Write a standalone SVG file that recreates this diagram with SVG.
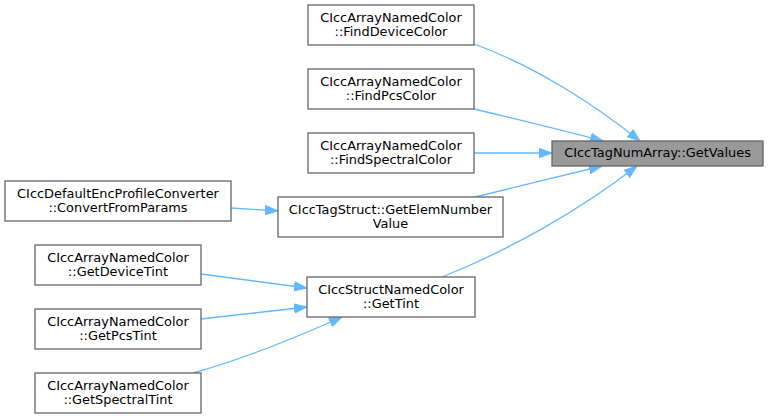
<svg xmlns="http://www.w3.org/2000/svg" width="768" height="419" viewBox="0 0 768 419">
<style>
.n rect{fill:#ffffff;stroke:#666666;stroke-width:1.3}
.n.h rect{fill:#999999}
.n text{font-family:"DejaVu Sans",sans-serif;font-size:12.9px;fill:#000000;text-anchor:middle}
.e path{fill:none;stroke:#63b8ff;stroke-width:1.3}
</style>
<defs>
<marker id="ah" markerUnits="userSpaceOnUse" markerWidth="16" markerHeight="12" refX="13" refY="5" orient="auto" viewBox="0 0 16 12">
<path d="M0,0.3 L13,5 L0,9.7 Z" fill="#63b8ff" stroke="#63b8ff" stroke-width="1"/>
</marker>
</defs>
<rect width="768" height="419" fill="#ffffff"/>
<g id="edges" class="e">
<path d="M474,44 C535,66 595,105 640,141" marker-end="url(#ah)"/>
<path d="M474,109 C520,120 565,131 603,141" marker-end="url(#ah)"/>
<path d="M474,153 L552,153" marker-end="url(#ah)"/>
<path d="M475,197 C520,186 565,175 602,166" marker-end="url(#ah)"/>
<path d="M442,277 C510,250 580,210 637,166" marker-end="url(#ah)"/>
<path d="M231,208 L278,211" marker-end="url(#ah)"/>
<path d="M201,274 L307,288" marker-end="url(#ah)"/>
<path d="M201,319 L307,307" marker-end="url(#ah)"/>
<path d="M193,373 C240,360 295,338 342,317" marker-end="url(#ah)"/>
</g>
<g id="getvalues" class="n h"><rect x="552" y="141" width="211" height="25"/><text x="657.5" y="157">CIccTagNumArray::GetValues</text></g>
<g id="finddevicecolor" class="n"><rect x="308" y="5" width="166" height="40"/><text x="391" y="22">CIccArrayNamedColor</text><text x="391" y="36">::FindDeviceColor</text></g>
<g id="findpcscolor" class="n"><rect x="308" y="69" width="166" height="40"/><text x="391" y="86">CIccArrayNamedColor</text><text x="391" y="100">::FindPcsColor</text></g>
<g id="findspectralcolor" class="n"><rect x="308" y="133" width="166" height="40"/><text x="391" y="150">CIccArrayNamedColor</text><text x="391" y="164">::FindSpectralColor</text></g>
<g id="getelemnumbervalue" class="n"><rect x="278" y="197" width="225" height="40"/><text x="390.5" y="214">CIccTagStruct::GetElemNumber</text><text x="390.5" y="228">Value</text></g>
<g id="convertfromparams" class="n"><rect x="5" y="181" width="226" height="40"/><text x="118" y="198">CIccDefaultEncProfileConverter</text><text x="118" y="212">::ConvertFromParams</text></g>
<g id="gettint" class="n"><rect x="307" y="277" width="168" height="40"/><text x="391" y="294">CIccStructNamedColor</text><text x="391" y="308">::GetTint</text></g>
<g id="getdevicetint" class="n"><rect x="35" y="245" width="166" height="40"/><text x="118" y="262">CIccArrayNamedColor</text><text x="118" y="276">::GetDeviceTint</text></g>
<g id="getpcstint" class="n"><rect x="35" y="309" width="166" height="40"/><text x="118" y="326">CIccArrayNamedColor</text><text x="118" y="340">::GetPcsTint</text></g>
<g id="getspectraltint" class="n"><rect x="35" y="373" width="166" height="40"/><text x="118" y="390">CIccArrayNamedColor</text><text x="118" y="404">::GetSpectralTint</text></g>
</svg>
